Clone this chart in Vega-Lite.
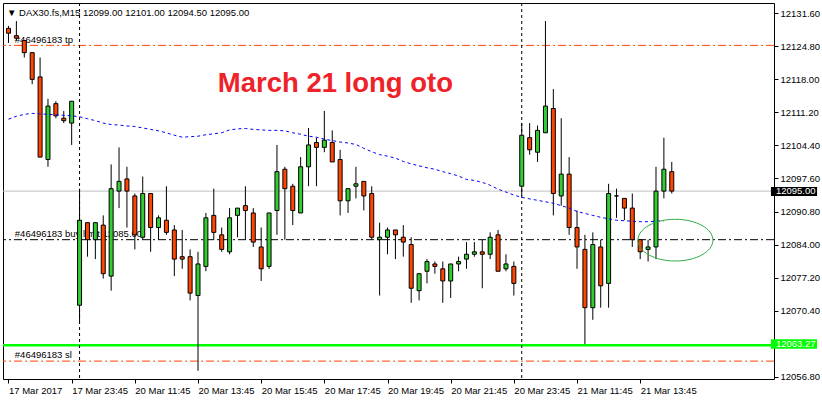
{
  "$schema": "https://vega.github.io/schema/vega-lite/v6.json",
  "description": "DAX30.fs M15 candles, 17-21 Mar 2017, with order levels",
  "width": 771,
  "height": 376,
  "autosize": {"type": "none"},
  "padding": {"left": 3, "top": 3, "right": 48, "bottom": 21},
  "background": "#FFFFFF",
  "title": {
    "text": "▼ DAX30.fs,M15  12099.00 12101.00 12094.50 12095.00",
    "anchor": "start",
    "frame": "group",
    "orient": "top",
    "offset": 0,
    "dx": 4,
    "dy": 23,
    "baseline": "alphabetic",
    "font": "Liberation Sans",
    "fontSize": 9.5,
    "fontWeight": "normal",
    "color": "#000000"
  },
  "config": {
    "view": {"stroke": "#000000", "strokeWidth": 1},
    "text": {"font": "Liberation Sans"},
    "axis": {
      "title": null,
      "domain": false,
      "grid": false,
      "labelFlush": false,
      "labelOverlap": false,
      "labelFont": "Liberation Sans",
      "labelFontSize": 9.5,
      "labelColor": "#000000",
      "tickColor": "#000000",
      "tickSize": 4,
      "labelPadding": 2
    }
  },
  "datasets": {
    "candles": [
      {"i": 0, "o": 12128.5, "h": 12129, "l": 12125.5, "c": 12127.5},
      {"i": 1, "o": 12127, "h": 12130, "l": 12126, "c": 12126.5},
      {"i": 2, "o": 12126, "h": 12126, "l": 12122.5, "c": 12123.5},
      {"i": 3, "o": 12123.5, "h": 12123.5, "l": 12117, "c": 12118},
      {"i": 4, "o": 12118.5, "h": 12122.5, "l": 12102, "c": 12102},
      {"i": 5, "o": 12101.5, "h": 12114, "l": 12100, "c": 12112.5},
      {"i": 6, "o": 12113, "h": 12113.5, "l": 12110, "c": 12110.5},
      {"i": 7, "o": 12110, "h": 12111.5, "l": 12109, "c": 12109.5},
      {"i": 8, "o": 12109, "h": 12113.5, "l": 12104.5, "c": 12113.5},
      {"i": 9, "o": 12071.5, "h": 12095.5, "l": 12068, "c": 12089},
      {"i": 10, "o": 12088.5, "h": 12088.5, "l": 12081.5, "c": 12085},
      {"i": 11, "o": 12085, "h": 12088.5, "l": 12081, "c": 12088.5},
      {"i": 12, "o": 12088, "h": 12090, "l": 12077, "c": 12078},
      {"i": 13, "o": 12077.5, "h": 12100.5, "l": 12074.5, "c": 12095.5},
      {"i": 14, "o": 12095, "h": 12104, "l": 12091.5, "c": 12097},
      {"i": 15, "o": 12097.5, "h": 12100, "l": 12087.5, "c": 12095},
      {"i": 16, "o": 12094, "h": 12094.5, "l": 12083, "c": 12086},
      {"i": 17, "o": 12085.5, "h": 12098, "l": 12085, "c": 12094.5},
      {"i": 18, "o": 12094.5, "h": 12094.5, "l": 12082.5, "c": 12087.5},
      {"i": 19, "o": 12087.5, "h": 12090, "l": 12085, "c": 12089.5},
      {"i": 20, "o": 12089, "h": 12096, "l": 12086, "c": 12086.5},
      {"i": 21, "o": 12087, "h": 12088, "l": 12077.5, "c": 12081},
      {"i": 22, "o": 12081.5, "h": 12087, "l": 12079, "c": 12081},
      {"i": 23, "o": 12081.5, "h": 12083, "l": 12072.5, "c": 12074},
      {"i": 24, "o": 12073.5, "h": 12082.5, "l": 12058, "c": 12080},
      {"i": 25, "o": 12079.5, "h": 12090.5, "l": 12078.5, "c": 12089.5},
      {"i": 26, "o": 12090, "h": 12095.5, "l": 12085, "c": 12086.5},
      {"i": 27, "o": 12086, "h": 12087.5, "l": 12082.5, "c": 12083},
      {"i": 28, "o": 12082.5, "h": 12091.5, "l": 12082, "c": 12089.5},
      {"i": 29, "o": 12090, "h": 12091.5, "l": 12085.5, "c": 12091.5},
      {"i": 30, "o": 12092, "h": 12096, "l": 12085, "c": 12091},
      {"i": 31, "o": 12090.5, "h": 12091.5, "l": 12083.5, "c": 12084.5},
      {"i": 32, "o": 12083.5, "h": 12087.5, "l": 12076.5, "c": 12079},
      {"i": 33, "o": 12079.5, "h": 12090.5, "l": 12079, "c": 12090.5},
      {"i": 34, "o": 12091, "h": 12104.5, "l": 12086, "c": 12099},
      {"i": 35, "o": 12099.5, "h": 12100, "l": 12085, "c": 12095.5},
      {"i": 36, "o": 12096, "h": 12096.5, "l": 12088, "c": 12091},
      {"i": 37, "o": 12090.5, "h": 12102, "l": 12090.5, "c": 12100},
      {"i": 38, "o": 12100, "h": 12108, "l": 12096, "c": 12104.5},
      {"i": 39, "o": 12105, "h": 12106, "l": 12096, "c": 12104},
      {"i": 40, "o": 12104, "h": 12111.5, "l": 12103, "c": 12105.5},
      {"i": 41, "o": 12105, "h": 12107.5, "l": 12101, "c": 12101},
      {"i": 42, "o": 12101.5, "h": 12103.5, "l": 12090, "c": 12093},
      {"i": 43, "o": 12093, "h": 12095.5, "l": 12090.5, "c": 12095.5},
      {"i": 44, "o": 12096, "h": 12100, "l": 12093.5, "c": 12096.5},
      {"i": 45, "o": 12097, "h": 12097, "l": 12091, "c": 12094},
      {"i": 46, "o": 12094.5, "h": 12096, "l": 12085, "c": 12085.5},
      {"i": 47, "o": 12085, "h": 12088.5, "l": 12073.5, "c": 12085.5},
      {"i": 48, "o": 12085.5, "h": 12087.5, "l": 12082, "c": 12087},
      {"i": 49, "o": 12087, "h": 12087, "l": 12081, "c": 12086},
      {"i": 50, "o": 12085.5, "h": 12088, "l": 12081.5, "c": 12084.5},
      {"i": 51, "o": 12084, "h": 12085.5, "l": 12072, "c": 12075},
      {"i": 52, "o": 12074.5, "h": 12078, "l": 12072.5, "c": 12078},
      {"i": 53, "o": 12078.5, "h": 12081, "l": 12076, "c": 12080.5},
      {"i": 54, "o": 12080, "h": 12080.5, "l": 12078, "c": 12079.5},
      {"i": 55, "o": 12079, "h": 12080.5, "l": 12072, "c": 12076.5},
      {"i": 56, "o": 12076.5, "h": 12080, "l": 12073, "c": 12080},
      {"i": 57, "o": 12080, "h": 12081.5, "l": 12078.5, "c": 12080.5},
      {"i": 58, "o": 12081, "h": 12084.5, "l": 12079, "c": 12082},
      {"i": 59, "o": 12082, "h": 12084.5, "l": 12081.5, "c": 12082.5},
      {"i": 60, "o": 12082.5, "h": 12085, "l": 12075, "c": 12082},
      {"i": 61, "o": 12082, "h": 12086.5, "l": 12081, "c": 12085.5},
      {"i": 62, "o": 12086, "h": 12087, "l": 12078.5, "c": 12078.5},
      {"i": 63, "o": 12079, "h": 12082, "l": 12078.5, "c": 12080},
      {"i": 64, "o": 12079.5, "h": 12080.5, "l": 12073.5, "c": 12076},
      {"i": 65, "o": 12096, "h": 12109, "l": 12094, "c": 12106.5},
      {"i": 66, "o": 12106, "h": 12109, "l": 12102.5, "c": 12103.5},
      {"i": 67, "o": 12103, "h": 12108.5, "l": 12101, "c": 12107.5},
      {"i": 68, "o": 12107, "h": 12130, "l": 12107, "c": 12112.5},
      {"i": 69, "o": 12112, "h": 12116, "l": 12090, "c": 12094.5},
      {"i": 70, "o": 12094, "h": 12110, "l": 12092, "c": 12098.5},
      {"i": 71, "o": 12098.5, "h": 12102, "l": 12086, "c": 12087.5},
      {"i": 72, "o": 12087.5, "h": 12091, "l": 12079, "c": 12083.5},
      {"i": 73, "o": 12083, "h": 12086, "l": 12063.5, "c": 12071},
      {"i": 74, "o": 12071, "h": 12086.5, "l": 12068.5, "c": 12084},
      {"i": 75, "o": 12083.5, "h": 12085, "l": 12071, "c": 12075.5},
      {"i": 76, "o": 12076, "h": 12096.5, "l": 12071, "c": 12094.5},
      {"i": 77, "o": 12094, "h": 12095.5, "l": 12089.5, "c": 12094},
      {"i": 78, "o": 12093.5, "h": 12093.5, "l": 12089, "c": 12091.5},
      {"i": 79, "o": 12091.5, "h": 12094.5, "l": 12083.5, "c": 12085},
      {"i": 80, "o": 12085, "h": 12085, "l": 12081, "c": 12082.5},
      {"i": 81, "o": 12083, "h": 12085, "l": 12080.5, "c": 12083.5},
      {"i": 82, "o": 12083.5, "h": 12100, "l": 12081, "c": 12095},
      {"i": 83, "o": 12095, "h": 12106, "l": 12093.5, "c": 12099.5},
      {"i": 84, "o": 12099, "h": 12101, "l": 12094.5, "c": 12095}
    ],
    "ma": [
      {"i": 0, "v": 12109.8}, {"i": 1, "v": 12110.4}, {"i": 2, "v": 12110.8}, {"i": 3, "v": 12111.0},
      {"i": 4, "v": 12110.9}, {"i": 5, "v": 12110.8}, {"i": 6, "v": 12110.7}, {"i": 7, "v": 12110.6},
      {"i": 8, "v": 12110.5}, {"i": 9, "v": 12110.3}, {"i": 10, "v": 12109.9}, {"i": 11, "v": 12109.5},
      {"i": 12, "v": 12109.0}, {"i": 13, "v": 12108.7}, {"i": 14, "v": 12108.6}, {"i": 15, "v": 12108.4},
      {"i": 16, "v": 12108.3}, {"i": 17, "v": 12108.0}, {"i": 18, "v": 12107.7}, {"i": 19, "v": 12107.4},
      {"i": 20, "v": 12107.0}, {"i": 21, "v": 12106.5}, {"i": 22, "v": 12106.1}, {"i": 23, "v": 12106.2},
      {"i": 24, "v": 12106.3}, {"i": 25, "v": 12106.6}, {"i": 26, "v": 12106.8}, {"i": 27, "v": 12107.0},
      {"i": 28, "v": 12107.6}, {"i": 29, "v": 12107.8}, {"i": 30, "v": 12107.9}, {"i": 31, "v": 12107.7},
      {"i": 32, "v": 12107.6}, {"i": 33, "v": 12107.5}, {"i": 34, "v": 12107.5}, {"i": 35, "v": 12107.4},
      {"i": 36, "v": 12107.0}, {"i": 37, "v": 12106.7}, {"i": 38, "v": 12106.3}, {"i": 39, "v": 12106.1},
      {"i": 40, "v": 12105.7}, {"i": 41, "v": 12105.4}, {"i": 42, "v": 12105.1}, {"i": 43, "v": 12104.9},
      {"i": 44, "v": 12104.6}, {"i": 45, "v": 12103.8}, {"i": 46, "v": 12103.1}, {"i": 47, "v": 12102.5},
      {"i": 48, "v": 12102.2}, {"i": 49, "v": 12101.8}, {"i": 50, "v": 12101.1}, {"i": 51, "v": 12100.6},
      {"i": 52, "v": 12100.2}, {"i": 53, "v": 12099.8}, {"i": 54, "v": 12099.5}, {"i": 55, "v": 12099.0},
      {"i": 56, "v": 12098.6}, {"i": 57, "v": 12098.1}, {"i": 58, "v": 12097.4}, {"i": 59, "v": 12097.2},
      {"i": 60, "v": 12096.8}, {"i": 61, "v": 12096.2}, {"i": 62, "v": 12095.4}, {"i": 63, "v": 12094.8},
      {"i": 64, "v": 12094.2}, {"i": 65, "v": 12093.7}, {"i": 66, "v": 12093.4}, {"i": 67, "v": 12093.1},
      {"i": 68, "v": 12092.8}, {"i": 69, "v": 12092.5}, {"i": 70, "v": 12092.0}, {"i": 71, "v": 12091.5},
      {"i": 72, "v": 12090.8}, {"i": 73, "v": 12090.4}, {"i": 74, "v": 12090.0}, {"i": 75, "v": 12089.6},
      {"i": 76, "v": 12089.3}, {"i": 77, "v": 12089.0}, {"i": 78, "v": 12088.9}, {"i": 79, "v": 12088.8},
      {"i": 80, "v": 12088.7}, {"i": 81, "v": 12088.7}, {"i": 82, "v": 12088.8}, {"i": 83, "v": 12088.9}
    ],
    "orderLevels": [{"name": "tp", "price": 12125}, {"name": "sl", "price": 12060}],
    "entryLevel": [{"name": "buy limit", "price": 12085}],
    "bidLevel": [{"name": "bid", "price": 12095}],
    "lowLevel": [{"name": "low", "price": 12063.27}],
    "daySeparators": [{"i": 9}, {"i": 65}],
    "orderLabels": [
      {"i": 0.8, "price": 12125.5, "label": "#46496183 tp"},
      {"i": 0.8, "price": 12085.6, "label": "#46496183 buy limit 12085.00"},
      {"i": 0.8, "price": 12060.6, "label": "#46496183 sl"}
    ],
    "note": [{"i": 41.4, "price": 12115.4, "label": "March 21 long oto"}],
    "circle": [{"i": 84.46, "price": 12084.9}],
    "bidBox": [{"i": 96.56, "i2": 102.4, "lo": 12094.0, "hi": 12095.85, "mid": 12094.95, "label": "12095.00"}],
    "lowBox": [{"i": 96.56, "i2": 102.4, "lo": 12062.55, "hi": 12064.5, "mid": 12063.5, "label": "12063.27"}]
  },
  "layer": [
    {
      "data": {"name": "candles"},
      "mark": {"type": "rule", "color": "#000000", "strokeWidth": 1},
      "encoding": {
        "x": {
          "field": "i", "type": "quantitative", "title": null,
          "scale": {"domain": [-0.0625, 96.3125], "nice": false, "zero": false},
          "axis": {
            "orient": "bottom",
            "values": [0, 8, 16, 24, 32, 40, 48, 56, 64, 72, 80],
            "tickCount": 30,
            "labelExpr": "['17 Mar 2017','17 Mar 23:45','20 Mar 11:45','20 Mar 13:45','20 Mar 15:45','20 Mar 17:45','20 Mar 19:45','20 Mar 21:45','20 Mar 23:45','21 Mar 11:45','21 Mar 13:45'][round(datum.value / 8)]",
            "labelAlign": "left",
            "labelBaseline": "top",
            "labelOverlap": false
          }
        },
        "y": {
          "field": "l", "type": "quantitative", "title": null,
          "scale": {"domain": [12056.32, 12133.72], "nice": false, "zero": false},
          "axis": {
            "orient": "right",
            "values": [12131.6, 12124.8, 12118, 12111.2, 12104.4, 12097.6, 12090.8, 12084, 12077.2, 12070.4, 12056.8],
            "tickCount": 30,
            "format": ".2f",
            "labelAlign": "left",
            "labelBaseline": "middle",
            "labelOverlap": false
          }
        },
        "y2": {"field": "h"},
        "opacity": {"value": 0}
      }
    },
    {
      "data": {"name": "bidLevel"},
      "mark": {"type": "rule", "color": "#C0C0C0", "strokeWidth": 1},
      "encoding": {
        "y": {"field": "price", "type": "quantitative", "title": null, "scale": {"domain": [12056.32, 12133.72], "nice": false, "zero": false}}
      }
    },
    {
      "data": {"name": "orderLevels"},
      "mark": {"type": "rule", "color": "#FF4500", "strokeWidth": 1, "strokeDash": [8, 3, 2, 3]},
      "encoding": {
        "y": {"field": "price", "type": "quantitative", "title": null, "scale": {"domain": [12056.32, 12133.72], "nice": false, "zero": false}}
      }
    },
    {
      "data": {"name": "entryLevel"},
      "mark": {"type": "rule", "color": "#000000", "strokeWidth": 1, "strokeDash": [8, 3, 2, 3]},
      "encoding": {
        "y": {"field": "price", "type": "quantitative", "title": null, "scale": {"domain": [12056.32, 12133.72], "nice": false, "zero": false}}
      }
    },
    {
      "data": {"name": "lowLevel"},
      "mark": {"type": "rule", "color": "#00FF00", "strokeWidth": 2.5},
      "encoding": {
        "y": {"field": "price", "type": "quantitative", "title": null, "scale": {"domain": [12056.32, 12133.72], "nice": false, "zero": false}}
      }
    },
    {
      "data": {"name": "daySeparators"},
      "mark": {"type": "rule", "color": "#000000", "strokeWidth": 1, "strokeDash": [3, 3]},
      "encoding": {
        "x": {"field": "i", "type": "quantitative", "title": null, "scale": {"domain": [-0.0625, 96.3125], "nice": false, "zero": false}}
      }
    },
    {
      "data": {"name": "orderLabels"},
      "mark": {"type": "text", "align": "left", "baseline": "alphabetic", "fontSize": 9.5, "color": "#000000"},
      "encoding": {
        "x": {"field": "i", "type": "quantitative", "title": null, "scale": {"domain": [-0.0625, 96.3125], "nice": false, "zero": false}},
        "y": {"field": "price", "type": "quantitative", "title": null, "scale": {"domain": [12056.32, 12133.72], "nice": false, "zero": false}},
        "text": {"field": "label"}
      }
    },
    {
      "data": {"name": "note"},
      "mark": {"type": "text", "align": "center", "baseline": "alphabetic", "fontSize": 27.5, "fontWeight": "bold", "color": "#EE2229"},
      "encoding": {
        "x": {"field": "i", "type": "quantitative", "title": null, "scale": {"domain": [-0.0625, 96.3125], "nice": false, "zero": false}},
        "y": {"field": "price", "type": "quantitative", "title": null, "scale": {"domain": [12056.32, 12133.72], "nice": false, "zero": false}},
        "text": {"field": "label"}
      }
    },
    {
      "data": {"name": "candles"},
      "mark": {"type": "rule", "color": "#000000", "strokeWidth": 1},
      "encoding": {
        "x": {"field": "i", "type": "quantitative", "title": null, "scale": {"domain": [-0.0625, 96.3125], "nice": false, "zero": false}},
        "y": {"field": "l", "type": "quantitative", "title": null, "scale": {"domain": [12056.32, 12133.72], "nice": false, "zero": false}},
        "y2": {"field": "h"}
      }
    },
    {
      "data": {"name": "candles"},
      "mark": {"type": "bar", "size": 4, "stroke": "#000000", "strokeWidth": 1},
      "encoding": {
        "x": {"field": "i", "type": "quantitative", "title": null, "scale": {"domain": [-0.0625, 96.3125], "nice": false, "zero": false}},
        "y": {"field": "o", "type": "quantitative", "title": null, "scale": {"domain": [12056.32, 12133.72], "nice": false, "zero": false}},
        "y2": {"field": "c"},
        "color": {
          "condition": {"test": "datum.c >= datum.o", "value": "#32CD32"},
          "value": "#FF4500"
        }
      }
    },
    {
      "data": {"name": "ma"},
      "mark": {"type": "line", "color": "#0000FF", "strokeWidth": 1, "strokeDash": [3, 3]},
      "encoding": {
        "x": {"field": "i", "type": "quantitative", "title": null, "scale": {"domain": [-0.0625, 96.3125], "nice": false, "zero": false}},
        "y": {"field": "v", "type": "quantitative", "title": null, "scale": {"domain": [12056.32, 12133.72], "nice": false, "zero": false}}
      }
    },
    {
      "data": {"name": "circle"},
      "mark": {
        "type": "point",
        "shape": "M-1,0A1,0.556,0,1,1,1,0A1,0.556,0,1,1,-1,0Z",
        "size": 5625,
        "filled": false,
        "stroke": "#33AA44",
        "strokeWidth": 1,
        "opacity": 1
      },
      "encoding": {
        "x": {"field": "i", "type": "quantitative", "title": null, "scale": {"domain": [-0.0625, 96.3125], "nice": false, "zero": false}},
        "y": {"field": "price", "type": "quantitative", "title": null, "scale": {"domain": [12056.32, 12133.72], "nice": false, "zero": false}}
      }
    },
    {
      "data": {"name": "bidBox"},
      "mark": {"type": "rect", "color": "#000000"},
      "encoding": {
        "x": {"field": "i", "type": "quantitative", "title": null, "scale": {"domain": [-0.0625, 96.3125], "nice": false, "zero": false}},
        "x2": {"field": "i2"},
        "y": {"field": "lo", "type": "quantitative", "title": null, "scale": {"domain": [12056.32, 12133.72], "nice": false, "zero": false}},
        "y2": {"field": "hi"}
      }
    },
    {
      "data": {"name": "lowBox"},
      "mark": {"type": "rect", "color": "#00FF00"},
      "encoding": {
        "x": {"field": "i", "type": "quantitative", "title": null, "scale": {"domain": [-0.0625, 96.3125], "nice": false, "zero": false}},
        "x2": {"field": "i2"},
        "y": {"field": "lo", "type": "quantitative", "title": null, "scale": {"domain": [12056.32, 12133.72], "nice": false, "zero": false}},
        "y2": {"field": "hi"}
      }
    },
    {
      "data": {"name": "bidBox"},
      "mark": {"type": "text", "align": "left", "baseline": "middle", "dx": 5, "fontSize": 9.5, "color": "#FFFFFF"},
      "encoding": {
        "x": {"field": "i", "type": "quantitative", "title": null, "scale": {"domain": [-0.0625, 96.3125], "nice": false, "zero": false}},
        "y": {"field": "mid", "type": "quantitative", "title": null, "scale": {"domain": [12056.32, 12133.72], "nice": false, "zero": false}},
        "text": {"field": "label"}
      }
    },
    {
      "data": {"name": "lowBox"},
      "mark": {"type": "text", "align": "left", "baseline": "middle", "dx": 5, "fontSize": 9.5, "color": "#FFFFFF"},
      "encoding": {
        "x": {"field": "i", "type": "quantitative", "title": null, "scale": {"domain": [-0.0625, 96.3125], "nice": false, "zero": false}},
        "y": {"field": "mid", "type": "quantitative", "title": null, "scale": {"domain": [12056.32, 12133.72], "nice": false, "zero": false}},
        "text": {"field": "label"}
      }
    }
  ]
}
